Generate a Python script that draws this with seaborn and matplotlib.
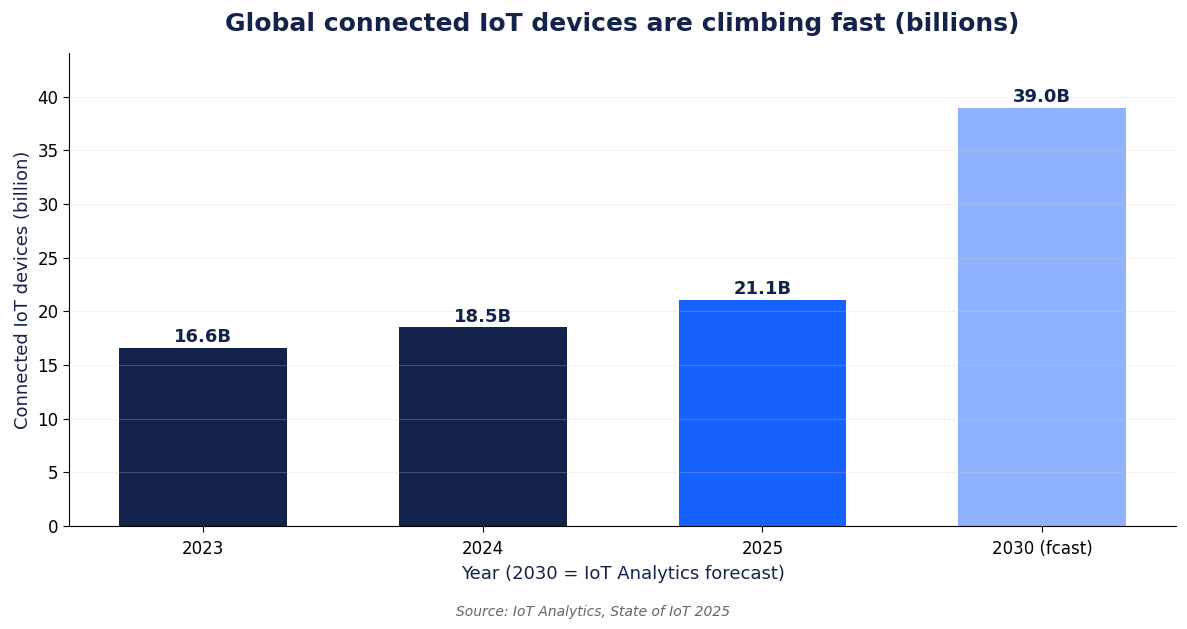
import pandas as pd
import seaborn as sns
import matplotlib.pyplot as plt

# data
years = ['2023', '2024', '2025', '2030 (fcast)']
devices = [16.6, 18.5, 21.1, 39.0]
bar_colors = ['#13234B', '#13234B', '#1662FF', '#8FB2FF']

df = pd.DataFrame({'year': years, 'devices': devices})

sns.set_style('white')
plt.rcParams['text.color'] = 'black'
plt.rcParams['xtick.color'] = 'black'
plt.rcParams['ytick.color'] = 'black'
fig, ax = plt.subplots(figsize=(11.87, 6.29), dpi=100)
fig.subplots_adjust(left=0.058, right=0.991, top=0.916, bottom=0.164)

sns.barplot(data=df, x='year', y='devices', hue='year', palette=bar_colors,
            width=0.6, legend=False, saturation=1, linewidth=0, ax=ax)

for i, v in enumerate(devices):
    ax.text(i, v + 0.15, f'{v:.1f}B', ha='center', va='bottom',
            fontsize=13, fontweight='bold', color='#13234B')

ax.set_ylim(0, 44.1)
ax.set_xlim(-0.48, 3.48)
ax.set_yticks(range(0, 41, 5))
ax.grid(axis='y', color='#cccccc', alpha=0.25, linewidth=0.8)
ax.set_axisbelow(False)
sns.despine(ax=ax)
for s in ['left', 'bottom']:
    ax.spines[s].set_color('black')
ax.tick_params(axis='both', labelsize=12, length=4, left=True, bottom=True,
               color='black', labelcolor='black')
ax.tick_params(axis='x', pad=6)

ax.set_title('Global connected IoT devices are climbing fast (billions)',
             fontsize=18, fontweight='bold', color='#13234B', pad=16)
ax.set_xlabel('Year (2030 = IoT Analytics forecast)', fontsize=13,
              color='#13234B', labelpad=5)
ax.set_ylabel('Connected IoT devices (billion)', fontsize=13,
              color='#13234B', labelpad=4)

fig.text(0.5, 0.02, 'Source: IoT Analytics, State of IoT 2025', ha='center',
         fontsize=10, style='italic', color='#666666')

plt.savefig('out.png', dpi=100)
